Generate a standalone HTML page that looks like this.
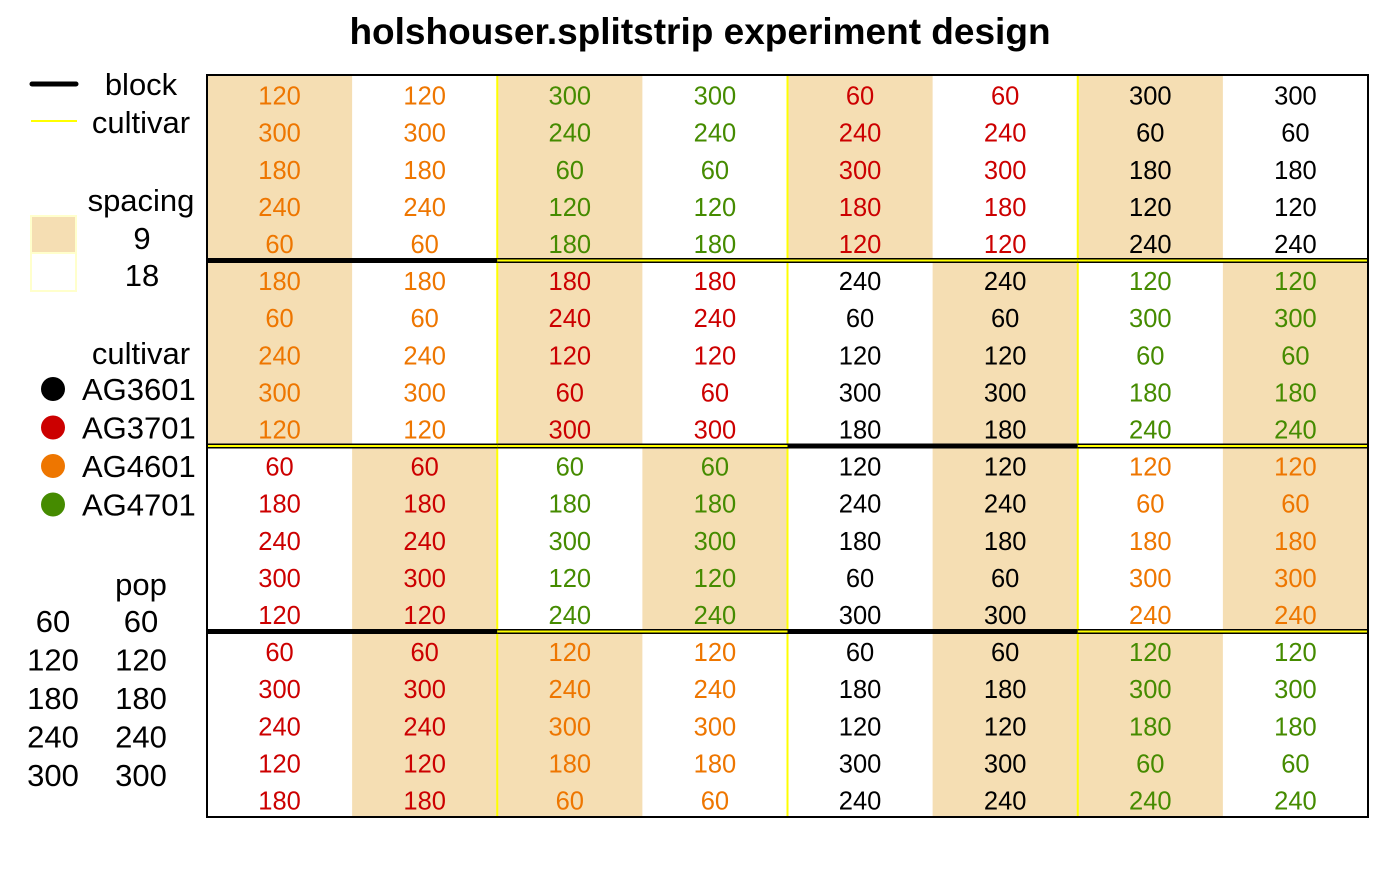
<!DOCTYPE html>
<html><head><meta charset="utf-8">
<style>body{margin:0;background:#fff}svg text{font-family:"Liberation Sans",sans-serif}</style>
</head><body>
<svg id="chart" width="1400" height="866" viewBox="0 0 1400 866" xmlns="http://www.w3.org/2000/svg">
<text x="700" y="44" text-anchor="middle" font-size="37" font-weight="bold">holshouser.splitstrip experiment design</text>
<g id="legend">
  <line x1="32" y1="84" x2="76" y2="84" stroke="#000" stroke-width="5" stroke-linecap="round"/>
  <text x="141" y="95" text-anchor="middle" font-size="31">block</text>
  <line x1="31" y1="121" x2="77" y2="121" stroke="#ffff00" stroke-width="2"/>
  <text x="141" y="133" text-anchor="middle" font-size="31">cultivar</text>
  <text x="141" y="211" text-anchor="middle" font-size="31">spacing</text>
  <rect x="31" y="216" width="45" height="37" fill="#F5DEB3" stroke="#ffffcc" stroke-width="2"/>
  <rect x="31" y="253" width="45" height="38" fill="#fff" stroke="#ffffcc" stroke-width="2"/>
  <text x="142" y="249" text-anchor="middle" font-size="31">9</text>
  <text x="142" y="286" text-anchor="middle" font-size="31">18</text>
  <text x="141" y="364" text-anchor="middle" font-size="31">cultivar</text>
  <text x="141" y="595" text-anchor="middle" font-size="31">pop</text>
</g>
<g id="grid"></g>
</svg>
<script>
const cultivars = ["AG3601","AG3701","AG4601","AG4701"];
const cultivarColors = ["#000000","#CC0000","#EE7600","#458B00"];
const popLevels = [60,120,180,240,300];
const blockCultivar = [
  [2,2,3,3,1,1,0,0],
  [2,2,1,1,0,0,3,3],
  [1,1,3,3,0,0,2,2],
  [1,1,2,2,0,0,3,3]
];
const blockSpacing = [
  [9,18,9,18,9,18,9,18],
  [9,18,9,18,18,9,18,9],
  [18,9,18,9,18,9,18,9],
  [18,9,9,18,18,9,9,18]
];
const blockPop = [
  [[120,300,180,240,60],[120,300,180,240,60],[300,240,60,120,180],[300,240,60,120,180],[60,240,300,180,120],[60,240,300,180,120],[300,60,180,120,240],[300,60,180,120,240]],
  [[180,60,240,300,120],[180,60,240,300,120],[180,240,120,60,300],[180,240,120,60,300],[240,60,120,300,180],[240,60,120,300,180],[120,300,60,180,240],[120,300,60,180,240]],
  [[60,180,240,300,120],[60,180,240,300,120],[60,180,300,120,240],[60,180,300,120,240],[120,240,180,60,300],[120,240,180,60,300],[120,60,180,300,240],[120,60,180,300,240]],
  [[60,300,240,120,180],[60,300,240,120,180],[120,240,300,180,60],[120,240,300,180,60],[60,180,120,300,240],[60,180,120,300,240],[120,300,180,60,240],[120,300,180,60,240]]
];
const NS="http://www.w3.org/2000/svg";
const X0=207,X1=1368,Y0=75,Y1=817,NC=8,NR=20;
const cw=(X1-X0)/NC, rh=(Y1-Y0)/NR;
const xs=c=>X0+c*cw, ys=r=>Y0+r*rh;
const g=document.getElementById('grid');
function mk(t,a){const e=document.createElementNS(NS,t);for(const k in a)e.setAttribute(k,a[k]);return e;}
blockPop.forEach((blk,b)=>{
  blk.forEach((col,c)=>{
    const r0=b*5;
    const bg=mk('rect',{x:xs(c),y:ys(r0),width:cw+0.5,height:rh*5+0.5,fill:blockSpacing[b][c]===9?'#F5DEB3':'#ffffff'});
    
    
    g.appendChild(bg);
    col.forEach((v,i)=>{
      const t=mk('text',{x:xs(c)+cw/2,y:ys(r0+i)+rh/2+11,'text-anchor':'middle','font-size':'25.5',fill:cultivarColors[blockCultivar[b][c]]});
      t.textContent=v;
      
      
      g.appendChild(t);
    });
  });
});
for(let c=2;c<NC;c+=2){
  const l=mk('line',{x1:xs(c),y1:Y0,x2:xs(c),y2:Y1,stroke:'#ffff00','stroke-width':2});
  
  
  g.appendChild(l);
}
for(let b=1;b<4;b++){
  const y=ys(b*5);
  for(let c=0;c<NC;c+=2){
    const same=blockCultivar[b-1][c]===blockCultivar[b][c];
    const l=mk('line',{x1:xs(c),y1:y,x2:xs(c+2),y2:y,stroke:'#000','stroke-width':5});
    
    
    g.appendChild(l);
    if(!same){
      const yl=mk('line',{x1:xs(c),y1:y,x2:xs(c+2),y2:y,stroke:'#ffff00','stroke-width':2});
      
      
      g.appendChild(yl);
    }
  }
}
const fr=mk('rect',{x:X0,y:Y0,width:X1-X0,height:Y1-Y0,fill:'none',stroke:'#000','stroke-width':2});


g.appendChild(fr);
const lg=document.getElementById('legend');
cultivars.forEach((n,i)=>{
  const y=389+i*38.5;
  const d=mk('circle',{cx:53,cy:y,r:12,fill:cultivarColors[i]});
  
  
  lg.appendChild(d);
  const t=mk('text',{x:82,y:y+11,'font-size':'31'});t.textContent=n;
  
  
  lg.appendChild(t);
});
popLevels.forEach((p,i)=>{
  const y=632+i*38.5;
  [53,141].forEach(x=>{
    const t=mk('text',{x:x,y:y,'text-anchor':'middle','font-size':'31'});t.textContent=p;
    
    
    lg.appendChild(t);
  });
});
</script>
</body></html>
